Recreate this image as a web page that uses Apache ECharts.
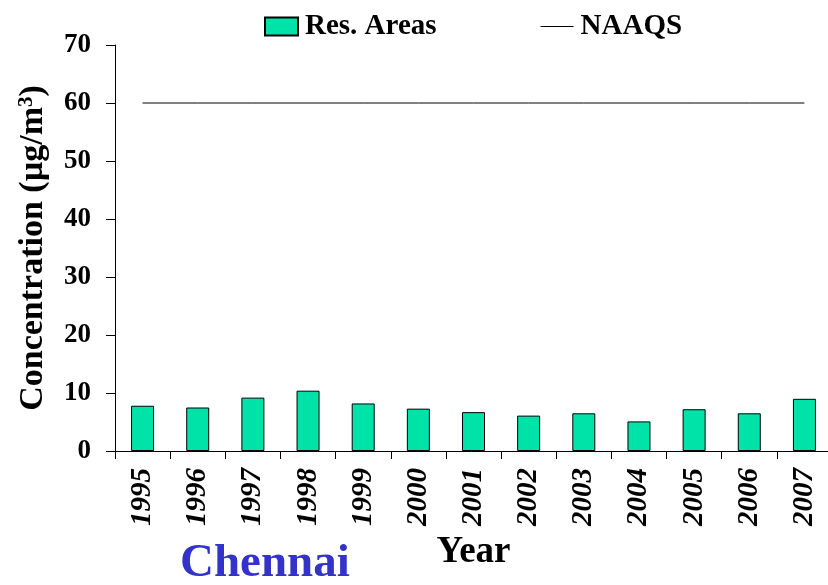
<!DOCTYPE html>
<html>
<head>
<meta charset="utf-8">
<script src="https://cdn.jsdelivr.net/npm/echarts@6/dist/echarts.min.js"></script>
<style>
  html, body { margin: 0; padding: 0; background: #fff; }
  #chart { width: 828px; height: 585px; }
</style>
</head>
<body>
<div id="chart"></div>
<script>
const years = ["1995", "1996", "1997", "1998", "1999", "2000", "2001", "2002", "2003", "2004", "2005", "2006", "2007"];
const resAreas = [7.8, 7.5, 9.2, 10.4, 8.2, 7.3, 6.7, 6.1, 6.5, 5.1, 7.2, 6.5, 9.0];
const naaqs = [60, 60, 60, 60, 60, 60, 60, 60, 60, 60, 60, 60, 60];

const serif = "'Liberation Serif', 'Times New Roman', serif";

let myChart = echarts.init(document.getElementById("chart"));
let option = {
  animation: false,
  textStyle: { fontFamily: serif },
  legend: {
    left: 259,
    top: 7,
    itemWidth: 33,
    itemHeight: 18,
    itemGap: 104,
    textStyle: {
      color: "#000",
      fontFamily: serif,
      fontWeight: "bold",
      fontSize: 29,
      padding: [0, 0, 0, 2],
    },
    data: [
      { name: "Res. Areas", icon: "rect" },
      { name: "NAAQS", icon: "path://M0,0H0.01V0.01H0Z M0,8.5H33V9.5H0Z M32.99,17.99H33V18H32.99Z" },
    ],
  },
  grid: {
    left: 115,
    top: 45,
    width: 717,
    height: 406,
    containLabel: false,
    outerBoundsMode: "none",
  },
  graphic: [
    {
      type: "text",
      left: 180,
      top: 540,
      style: {
        text: "Chennai",
        fill: "#3333CC",
        font: "bold 47px " + serif,
      },
    },
  ],
  xAxis: {
    type: "category",
    data: years,
    name: "Year",
    nameLocation: "middle",
    nameGap: 77,
    nameTextStyle: {
      color: "#000",
      fontFamily: serif,
      fontWeight: "bold",
      fontSize: 37,
    },
    axisLine: { lineStyle: { color: "#000", width: 1 } },
    axisTick: { show: true, length: 8, lineStyle: { color: "#000", width: 1 } },
    axisLabel: {
      rotate: 90,
      margin: 17,
      color: "#000",
      fontFamily: serif,
      fontWeight: "bold",
      fontStyle: "italic",
      fontSize: 29,
    },
  },
  yAxis: {
    type: "value",
    min: 0,
    max: 70,
    interval: 10,
    name: "{a|Concentration (µg/m}{s|3}{a|)}",
    nameLocation: "middle",
    nameGap: 64,
    nameTextStyle: {
      rich: {
        a: { fontFamily: serif, fontWeight: "bold", fontSize: 34, color: "#000" },
        s: { fontFamily: serif, fontWeight: "bold", fontSize: 21, color: "#000", verticalAlign: "top", padding: [0, 0, 14, 0] },
      },
    },
    splitLine: { show: false },
    axisLine: { show: true, lineStyle: { color: "#000", width: 1 } },
    axisTick: { show: true, length: 9, lineStyle: { color: "#000", width: 1 } },
    axisLabel: {
      margin: 24,
      color: "#000",
      fontFamily: serif,
      fontWeight: "bold",
      fontSize: 27,
    },
  },
  series: [
    {
      name: "Res. Areas",
      type: "bar",
      barWidth: 23,
      data: resAreas,
      itemStyle: {
        color: "#00E3A8",
        borderColor: "#000",
        borderWidth: 1,
      },
    },
    {
      name: "NAAQS",
      type: "line",
      symbol: "none",
      data: naaqs,
      lineStyle: { color: "#000", width: 1 },
      itemStyle: { color: "#000" },
    },
  ],
};
myChart.setOption(option);
</script>
</body>
</html>
